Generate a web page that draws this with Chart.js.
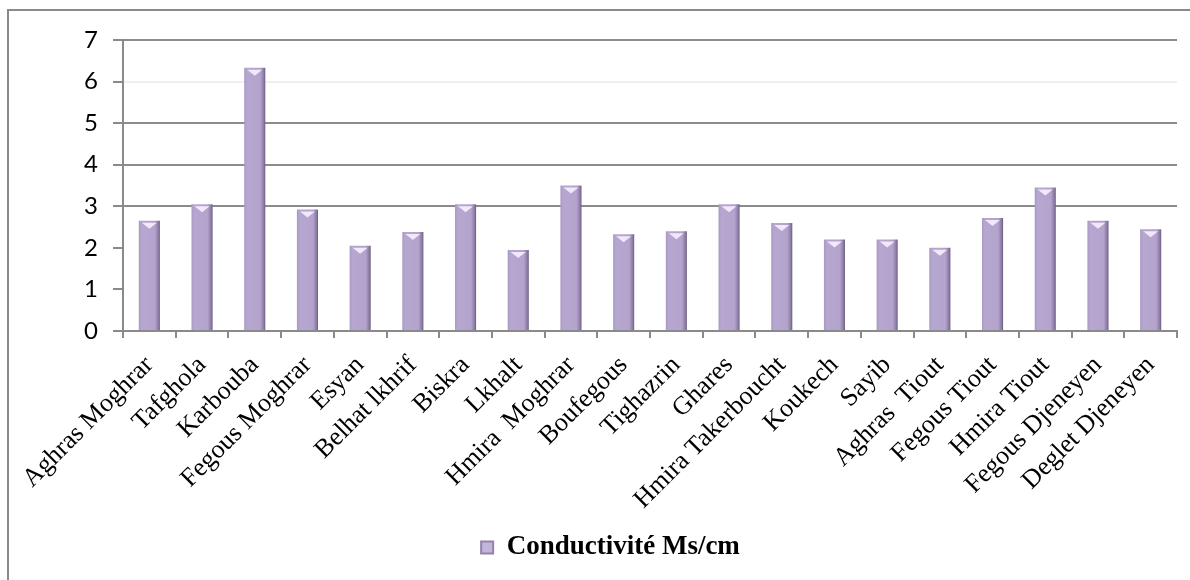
<!DOCTYPE html>
<html>
<head>
<meta charset="utf-8">
<script src="https://cdn.jsdelivr.net/npm/chart.js@4/dist/chart.umd.min.js"></script>
<style>
  html, body { margin: 0; padding: 0; background: #fff; }
  .chart-container { width: 1190px; height: 580px; position: relative; }
</style>
</head>
<body>
<div class="chart-container">
  <canvas id="chart"></canvas>
</div>
<script>
const sites = [
  'Aghras Moghrar', 'Tafghola', 'Karbouba', 'Fegous Moghrar', 'Esyan',
  'Belhat lkhrif', 'Biskra', 'Lkhalt', 'Hmira  Moghrar', 'Boufegous',
  'Tighazrin', 'Ghares', 'Hmira Takerboucht', 'Koukech', 'Sayib',
  'Aghras  Tiout', 'Fegous Tiout', 'Hmira Tiout', 'Fegous Djeneyen', 'Deglet Djeneyen'
];
const conductivity = [
  2.65, 3.05, 6.33, 2.92, 2.05,
  2.38, 3.05, 1.95, 3.5, 2.33,
  2.4, 3.05, 2.6, 2.2, 2.2,
  2.0, 2.72, 3.45, 2.65, 2.45
];
const seriesLabel = 'Conductivité Ms/cm';
const yTicks = [0, 1, 2, 3, 4, 5, 6, 7];

// grid lines as they show in the picture: some dark, one faint, some missing
const gridColors = {
  7: '#8c8c8c', 6: '#efefef', 5: '#8c8c8c', 4: '#8c8c8c', 3: '#8c8c8c', 2: 'rgba(0,0,0,0)', 1: 'rgba(0,0,0,0)'
};

const barFill = (context) => {
  const chart = context.chart;
  const xScale = chart.scales.x;
  if (!xScale || context.dataIndex === undefined) return '#b3a2c7';
  const x = xScale.getPixelForValue(context.dataIndex);
  const g = chart.ctx.createLinearGradient(x - 11, 0, x + 11, 0);
  g.addColorStop(0, '#a797bf');
  g.addColorStop(0.15, '#b6a7d1');
  g.addColorStop(0.75, '#b3a3cd');
  g.addColorStop(0.9, '#8f7fa7');
  g.addColorStop(1, '#5f5273');
  return g;
};

const framePlugin = {
  id: 'frame',
  beforeDraw(chart) {
    const c = chart.ctx;
    c.save();
    c.strokeStyle = '#8a8a8a';
    c.lineWidth = 2;
    c.beginPath();
    c.moveTo(8, 580);
    c.lineTo(8, 10);
    c.lineTo(1190, 10);
    c.stroke();
    c.restore();
  }
};

const capPlugin = {
  id: 'caps',
  afterDatasetsDraw(chart) {
    const c = chart.ctx;
    const meta = chart.getDatasetMeta(0);
    c.save();
    meta.data.forEach((bar) => {
      const half = bar.width / 2;
      c.fillStyle = 'rgba(250,240,255,0.9)';
      c.beginPath();
      c.moveTo(bar.x - half + 3, bar.y + 2);
      c.lineTo(bar.x + half - 3, bar.y + 2);
      c.lineTo(bar.x, bar.y + 8);
      c.closePath();
      c.fill();
    });
    c.restore();
  }
};

// legend sits a little right of the canvas centre in the original
const legendShift = {
  id: 'legendShift',
  afterLayout(chart) {
    if (chart.legend) {
      chart.legend.left += 22;
      chart.legend.right += 22;
    }
  }
};

const ctx = document.getElementById('chart').getContext('2d');
new Chart(ctx, {
  type: 'bar',
  data: {
    labels: sites,
    datasets: [{
      label: seriesLabel,
      data: conductivity,
      backgroundColor: barFill,
      borderWidth: 0,
      barPercentage: 0.4,
      categoryPercentage: 1
    }]
  },
  options: {
    responsive: true,
    maintainAspectRatio: false,
    animation: false,
    layout: {
      padding: { top: 40, right: 13, bottom: 9, left: 0 }
    },
    plugins: {
      tooltip: { enabled: false },
      legend: {
        position: 'bottom',
        labels: {
          color: '#000',
          font: { family: 'Liberation Serif', size: 27, weight: 'bold' },
          boxWidth: 12,
          boxHeight: 12,
          padding: 10,
          generateLabels: () => [{
            text: seriesLabel,
            fillStyle: '#c2b5d8',
            strokeStyle: '#9382ad',
            lineWidth: 2,
            hidden: false,
            datasetIndex: 0
          }]
        }
      }
    },
    scales: {
      x: {
        afterFit: (scale) => { scale.height = 193; },
        grid: {
          offset: true,
          color: 'rgba(0,0,0,0)',
          tickColor: '#8a8a8a',
          tickLength: 7,
          lineWidth: 2
        },
        border: { color: '#8a8a8a', width: 2 },
        ticks: {
          autoSkip: false,
          maxRotation: 45,
          minRotation: 45,
          padding: 12,
          color: '#000',
          font: { family: 'Liberation Serif', size: 26 }
        }
      },
      y: {
        min: 0,
        max: 7,
        afterFit: (scale) => { scale.width = 123; },
        afterBuildTicks: (scale) => { scale.ticks = yTicks.map(v => ({ value: v })); },
        grid: {
          color: (c) => gridColors[c.tick.value] || 'rgba(0,0,0,0)',
          tickColor: '#8a8a8a',
          tickLength: 10,
          lineWidth: 2
        },
        border: { color: '#8a8a8a', width: 2 },
        ticks: {
          stepSize: 1,
          padding: 15,
          color: '#000',
          font: { family: 'Lato', size: 24 }
        }
      }
    }
  },
  plugins: [framePlugin, capPlugin, legendShift]
});
</script>
</body>
</html>
